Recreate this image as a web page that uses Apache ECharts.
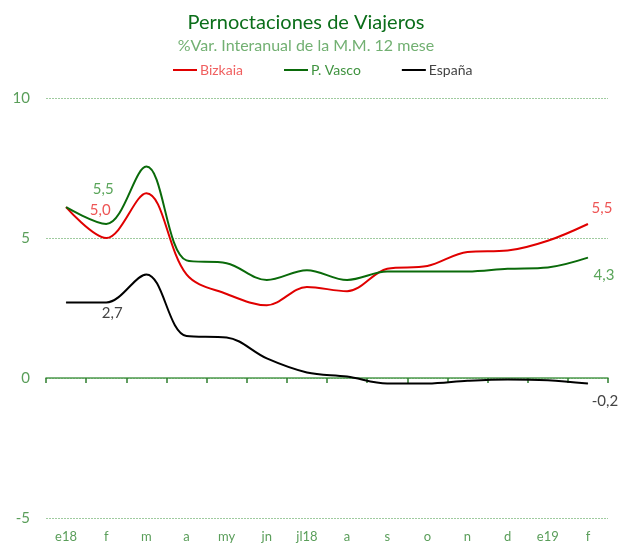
<!DOCTYPE html>
<html>
<head>
<meta charset="utf-8">
<script src="https://cdn.jsdelivr.net/npm/echarts@6/dist/echarts.min.js"></script>
<style>
  html, body { margin: 0; padding: 0; background: #fff; }
  #chart { width: 621px; height: 544px; }
</style>
</head>
<body>
<div id="chart"></div>
<script>
// datos
var meses = ['e18', 'f', 'm', 'a', 'my', 'jn', 'jl18', 'a', 's', 'o', 'n', 'd', 'e19', 'f'];
var bizkaia = [6.1, 5.0, 6.6, 3.7, 3.0, 2.6, 3.25, 3.1, 3.9, 4.0, 4.5, 4.55, 4.9, 5.5];
var pVasco = [6.1, 5.5, 7.55, 4.2, 4.1, 3.5, 3.85, 3.5, 3.8, 3.8, 3.8, 3.9, 3.95, 4.3];
var espana = [2.7, 2.7, 3.7, 1.5, 1.45, 0.7, 0.2, 0.05, -0.2, -0.2, -0.1, -0.05, -0.08, -0.2];
var yTicks = [-5, 0, 5, 10];

// etiquetas en f (indice 1) y en el ultimo punto
function etiquetas(valores, color, offF, offUlt) {
    return valores.map(function (v, i) {
        if (i === 1 || i === valores.length - 1) {
            return {
                value: v,
                label: {
                    show: true,
                    position: 'inside',
                    offset: i === 1 ? offF : offUlt,
                    color: color,
                    fontSize: 15,
                    fontFamily: 'Lato',
                    formatter: function (p) {
                        return p.value.toFixed(1).replace('.', ',');
                    }
                }
            };
        }
        return v;
    });
}

function serie(nombre, datos, color) {
    return {
        name: nombre,
        type: 'line',
        data: datos,
        smooth: 0.35,
        symbol: 'circle',
        symbolSize: 0.5,
        showSymbol: true,
        itemStyle: { color: color },
        lineStyle: { color: color, width: 2 },
        z: 3
    };
}

var myChart = echarts.init(document.getElementById('chart'));
var option = {
    backgroundColor: '#fff',
    animation: false,
    textStyle: { fontFamily: 'Lato' },
    title: {
        text: 'Pernoctaciones de Viajeros',
        subtext: '%Var. Interanual de la M.M. 12 mese',
        left: 301,
        textAlign: 'center',
        top: 8,
        itemGap: 5,
        textStyle: { color: '#0b6e1a', fontSize: 20, fontWeight: 'normal', fontFamily: 'Lato' },
        subtextStyle: { color: '#72b072', fontSize: 16, fontFamily: 'Lato' }
    },
    legend: {
        left: 173,
        top: 63,
        padding: 0,
        icon: 'rect',
        itemWidth: 24,
        itemHeight: 2,
        itemGap: 41,
        textStyle: { fontSize: 14, fontFamily: 'Lato', padding: [0, 0, 0, -2] },
        data: [
            { name: 'Bizkaia', textStyle: { color: '#f06060' } },
            { name: 'P. Vasco', textStyle: { color: '#3f933f' } },
            { name: 'España', textStyle: { color: '#444444' } }
        ]
    },
    grid: { left: 46, right: 13, top: 98, bottom: 26 },
    xAxis: [{
        type: 'category',
        data: meses,
        position: 'bottom',
        axisLine: { show: false, onZero: false },
        axisTick: { show: false },
        axisLabel: { color: '#5a9e5a', fontSize: 13, margin: 12, fontFamily: 'Lato' }
    }, {
        type: 'category',
        data: meses,
        position: 'bottom',
        axisLine: { show: true, onZero: true, lineStyle: { color: '#4f9a4f', width: 1.5 } },
        axisTick: { show: true, length: 5, inside: false, lineStyle: { color: '#2f7f2f', width: 1.5 } },
        axisLabel: { show: false }
    }],
    yAxis: {
        type: 'value',
        min: yTicks[0],
        max: yTicks[yTicks.length - 1],
        interval: 5,
        axisLine: { show: false },
        axisTick: { show: false },
        axisLabel: { color: '#5a9e5a', fontSize: 15, margin: 16, fontFamily: 'Lato' },
        splitLine: {
            show: true,
            lineStyle: { color: '#9fcb9f', type: [2, 1], width: 1 }
        }
    },
    series: [
        serie('Bizkaia', etiquetas(bizkaia, '#ee5555', [-6, -28], [14, -16]), '#e00000'),
        serie('P. Vasco', etiquetas(pVasco, '#5aa55a', [-3, -35], [16, 18]), '#0a6a0a'),
        serie('España', etiquetas(espana, '#444444', [6, 11], [17, 18]), '#000000')
    ]
};
myChart.setOption(option);
</script>
</body>
</html>
